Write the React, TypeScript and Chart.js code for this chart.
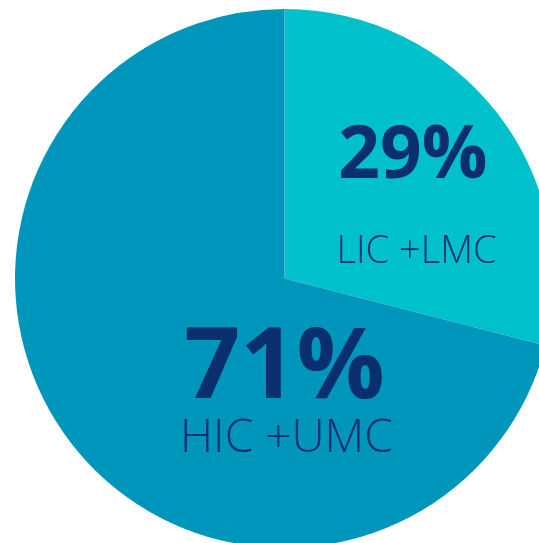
import React, { useEffect, useRef } from "react";
import { Chart, registerables } from "chart.js";

Chart.register(...registerables);

const categories = ["LIC +LMC", "HIC +UMC"];
const shares = [29, 71];
const percentLabels = ["29%", "71%"];
const sliceColors = ["#00C0CB", "#0096BB"];
const textColor = "#0A2F6E";

export default function App() {
  const ref = useRef<HTMLCanvasElement | null>(null);

  useEffect(() => {
    if (!ref.current) return;
    const labelPlugin = {
      id: "sliceLabels",
      afterDatasetsDraw(chart: any) {
        const meta = chart.getDatasetMeta(0);
        const arc0 = meta.data[0];
        if (!arc0) return;
        const cx = arc0.x;
        const cy = arc0.y;
        const r = arc0.outerRadius;
        const ctx = chart.ctx;
        ctx.save();
        ctx.fillStyle = textColor;
        ctx.textAlign = "center";
        ctx.textBaseline = "alphabetic";
        // slice 0 labels
        ctx.font = `bold ${Math.round(r * 0.272)}px "Open Sans"`;
        ctx.fillText(percentLabels[0], cx + r * 0.476, cy - r * 0.372);
        ctx.font = `300 ${Math.round(r * 0.141)}px "Open Sans"`;
        ctx.fillText(categories[0], cx + r * 0.49, cy - r * 0.059);
        // slice 1 labels
        ctx.font = `bold ${Math.round(r * 0.365)}px "Open Sans"`;
        ctx.fillText(percentLabels[1], cx + r * 0.0, cy + r * 0.442);
        ctx.font = `300 ${Math.round(r * 0.171)}px "Open Sans"`;
        ctx.fillText(categories[1], cx + r * 0.007, cy + r * 0.645);
        ctx.restore();
      },
    };
    const chart = new Chart(ref.current, {
      type: "pie",
      data: {
        labels: categories,
        datasets: [
          {
            data: shares,
            backgroundColor: sliceColors,
            borderWidth: 0,
          },
        ],
      },
      options: {
        animation: false,
        responsive: true,
        maintainAspectRatio: false,
        layout: { padding: 0 },
        plugins: {
          legend: { display: false },
          tooltip: { enabled: false },
        },
      },
      plugins: [labelPlugin],
    });
    return () => chart.destroy();
  }, []);

  return (
    <div
      style={{
        position: "fixed",
        left: 15,
        top: 9,
        width: 539,
        height: 539,
      }}
    >
      <canvas ref={ref} />
    </div>
  );
}
